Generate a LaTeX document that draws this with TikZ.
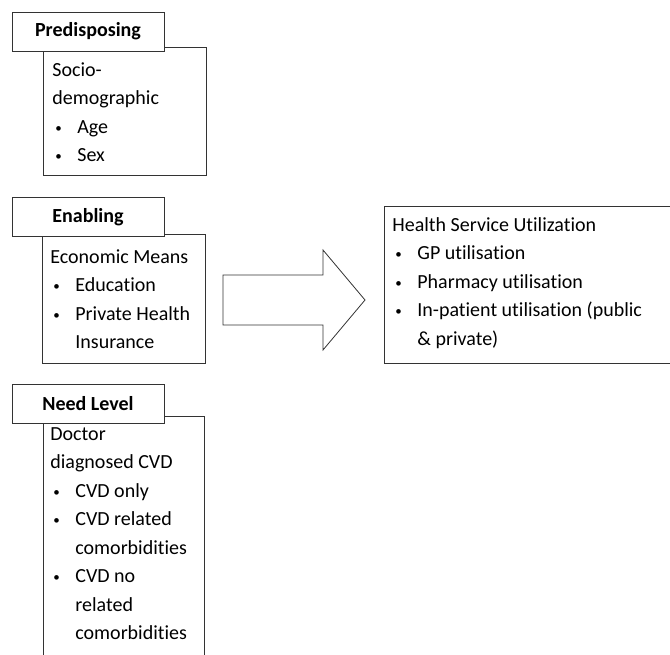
\documentclass[tikz,border=0pt]{standalone}
\usepackage{fontspec}
\setmainfont{Carlito}[Ligatures=NoCommon]
\usetikzlibrary{positioning}
\tikzstyle{header} = [rectangle, draw=black!80, fill=white, minimum width=152pt, minimum height=39pt, inner sep=0pt, font=\fontsize{20}{24}\selectfont\bfseries]
\tikzstyle{panel} = [rectangle, draw=black!80, inner sep=0pt, anchor=north west]
\tikzstyle{txt} = [anchor=north west, align=left, inner sep=0pt, font=\fontsize{20}{28.5}\selectfont]
\newcommand{\itm}[1]{\makebox[25pt][l]{\hspace{3pt}\raisebox{1pt}{\fontsize{13}{13}\selectfont\textbullet}}#1}
\newcommand{\cnt}[1]{\hspace*{25pt}#1}

\begin{document}
\begin{tikzpicture}[x=1pt, y=-1pt, line width=0.8pt]
                \useasboundingbox (0,0) rectangle (670,654);
                % predisposing
                \node (predbox) [panel, minimum width=163pt, minimum height=128pt] at (43,47) {};
                \node (pred) [header] at (88,31.5) {Predisposing};
                \node (predtxt) [txt] at (52,62) {Socio-\\demographic\\\itm{Age}\\\itm{Sex}};
                % enabling
                \node (enabox) [panel, minimum width=163pt, minimum height=129pt] at (42,234) {};
                \node (ena) [header] at (88,217) {Enabling};
                \node (enatxt) [txt] at (50,249) {Economic Means\\\itm{Education}\\\itm{Private Health}\\\cnt{Insurance}};
                % need level
                \node (needbox) [panel, minimum width=161pt, minimum height=250pt] at (43,416) {};
                \node (need) [header] at (88,404) {Need Level};
                \node (needtxt) [txt] at (50,427) {Doctor\\diagnosed CVD\\\itm{CVD only}\\\itm{CVD related}\\\cnt{comorbidities}\\\itm{CVD no}\\\cnt{related}\\\cnt{comorbidities}};
                % outcome
                \node (usebox) [panel, minimum width=300pt, minimum height=157pt] at (384,206) {};
                \node (usetxt) [txt] at (392,217) {Health Service Utilization\\\itm{GP utilisation}\\\itm{Pharmacy utilisation}\\\itm{In-patient utilisation (public}\\\cnt{\& private)}};

                \draw [draw=black!80, line join=miter] (223,275) -- (323,275) -- (323,250) -- (365,300)
                    -- (323,350) -- (323,325) -- (223,325) -- cycle;
\end{tikzpicture}
\end{document}
